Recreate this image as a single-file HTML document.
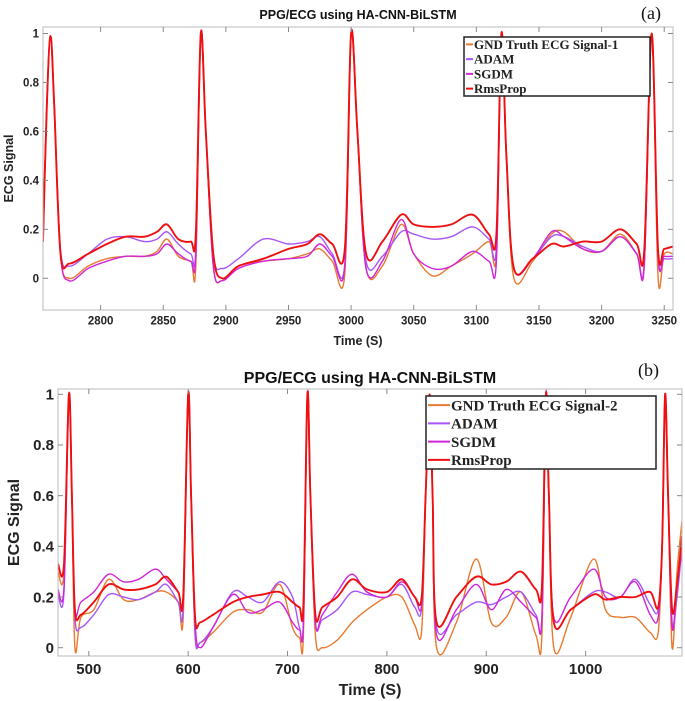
<!DOCTYPE html>
<html><head><meta charset="utf-8"><style>
html,body{margin:0;padding:0;background:#fff;}
svg{display:block;}
</style></head><body>
<svg id="fig" width="685" height="701" viewBox="0 0 685 701" xmlns="http://www.w3.org/2000/svg"></svg>
<script>
// ---- Chart A data ----
const timesA = [2754,2757,2760,2763,2768,2775,2790,2805,2820,2835,2845,2853,2862,2872,2876,2880,2884,2890,2897,2910,2930,2950,2965,2975,2985,2995,3000,3005,3012,3025,3040,3050,3065,3080,3097,3110,3116,3120,3124,3130,3145,3160,3170,3185,3200,3215,3228,3234,3240,3245,3250,3257];
const gndA  = [.15,.7,.99,.7,.1,0,.05,.08,.09,.09,.11,.16,.09,.07,.05,1,.6,.05,-.01,.05,.07,.08,.1,.12,.07,.02,1,.6,.04,.05,.22,.1,.01,.05,.1,.15,.1,1,.5,0,.07,.18,.19,.12,.11,.18,.1,.05,1,.01,.1,.1];
const adamA = [.15,.7,.99,.7,.12,.05,.1,.16,.17,.15,.16,.19,.14,.1,.12,1,.6,.1,.04,.08,.16,.14,.15,.17,.1,.06,1,.6,.07,.09,.19,.18,.16,.17,.21,.16,.13,1,.5,.04,.08,.17,.17,.13,.11,.17,.1,.06,1,.1,.08,.08];
const sgdmA = [.15,.7,.99,.7,.1,-.01,.04,.07,.09,.09,.1,.14,.1,.07,.1,1,.6,.05,-.01,.04,.07,.08,.09,.14,.09,.05,1,.6,.04,.07,.24,.1,.04,.05,.11,.07,.07,1,.5,.04,.08,.19,.17,.12,.11,.17,.1,.05,1,.1,.09,.09];
const rmsA  = [.15,.7,.99,.7,.1,.06,.1,.14,.17,.17,.19,.22,.16,.15,.18,1,.6,.1,0,.05,.08,.12,.14,.18,.14,.12,1,.6,.1,.15,.26,.22,.21,.22,.26,.18,.18,1,.5,.04,.08,.14,.13,.15,.15,.2,.14,.11,1,.12,.12,.13];
const xTicksA = [2800,2850,2900,2950,3000,3050,3100,3150,3200,3250];
const yTicksA = [0,0.2,0.4,0.6,0.8,1];
// ---- Chart B data ----
const timesB = [469,475,480,483,486,492,505,520,535,550,567,578,590,595,600,603,607,612,625,645,660,675,692,705,712,716,720,723,728,735,750,765,780,800,815,828,835,839,843,846,850,870,890,905,920,935,950,956,960,963,968,985,1008,1020,1035,1050,1065,1073,1077,1080,1083,1087,1092,1097];
const gndB  = [.3,.3,1,.6,0,.12,.15,.27,.19,.19,.22,.22,.18,.12,1,.6,.05,.02,.06,.14,.15,.14,.25,.08,.04,.05,1,.6,.05,0,.03,.1,.15,.2,.2,.09,.07,.6,1,.6,0,.1,.35,.1,.12,.22,.05,.05,1,.6,0,.12,.35,.15,.12,.12,.06,.06,.4,1,.6,0,.3,.5];
const adamB = [.21,.22,1,.6,.12,.08,.13,.21,.2,.19,.22,.25,.18,.16,1,.6,.05,.02,.08,.22,.2,.18,.26,.2,.08,.1,1,.6,.1,.11,.15,.22,.21,.2,.25,.16,.16,.6,1,.6,.08,.13,.18,.17,.2,.22,.13,.12,1,.6,.1,.15,.22,.22,.2,.27,.17,.15,.4,1,.6,.1,.2,.4];
const sgdmB = [.23,.24,1,.6,.15,.18,.22,.29,.26,.27,.31,.27,.22,.2,1,.6,.1,0,.08,.21,.14,.15,.18,.1,.07,.1,1,.6,.1,.13,.22,.29,.22,.2,.26,.2,.17,.6,1,.6,.05,.15,.25,.15,.23,.18,.12,.12,1,.6,.12,.2,.31,.2,.2,.26,.13,.12,.4,1,.6,.08,.25,.38];
const rmsB  = [.33,.33,1,.6,.15,.13,.18,.25,.23,.23,.25,.28,.22,.2,1,.6,.12,.1,.13,.18,.2,.21,.22,.18,.16,.17,1,.6,.13,.16,.2,.27,.23,.22,.27,.2,.2,.6,1,.6,.1,.2,.28,.25,.26,.3,.23,.24,1,.6,.1,.15,.21,.19,.2,.2,.22,.16,.4,1,.6,.15,.25,.44];
const xTicksB = [500,600,700,800,900,1000];
const yTicksB = [0,0.2,0.4,0.6,0.8,1];

const NS='http://www.w3.org/2000/svg';
const svg=document.getElementById('fig');
function mk(tag,attrs,parent){const e=document.createElementNS(NS,tag);for(const k in attrs)e.setAttribute(k,attrs[k]);(parent||svg).appendChild(e);return e;}
const colors={gnd:'#e87a30',adam:'#a855f7',sgdm:'#d025d8',rms:'#ee1010'};
function smoothPath(pts){
  let d='M'+pts[0][0].toFixed(1)+','+pts[0][1].toFixed(1);
  for(let i=0;i<pts.length-1;i++){
    const p0=pts[Math.max(0,i-1)],p1=pts[i],p2=pts[i+1],p3=pts[Math.min(pts.length-1,i+2)];
    const c1=[p1[0]+(p2[0]-p0[0])/6,p1[1]+(p2[1]-p0[1])/6];
    const c2=[p2[0]-(p3[0]-p1[0])/6,p2[1]-(p3[1]-p1[1])/6];
    d+=' C'+c1[0].toFixed(1)+','+c1[1].toFixed(1)+' '+c2[0].toFixed(1)+','+c2[1].toFixed(1)+' '+p2[0].toFixed(1)+','+p2[1].toFixed(1);
  }
  return d;
}

function chart(cfg){
  const g=mk('g',{});
  
  
  const sx=t=>cfg.L+(t-cfg.x0)/(cfg.x1-cfg.x0)*(cfg.R-cfg.L);
  const sy=v=>cfg.y0px+(v-0)*(cfg.y1px-cfg.y0px);
  const t=mk('text',{x:(cfg.L+cfg.R)/2,y:cfg.titleY,'text-anchor':'middle','font-family':'Liberation Sans, sans-serif','font-weight':'bold','font-size':cfg.titleFs,fill:'#111'},g);
  t.textContent='PPG/ECG using HA-CNN-BiLSTM';
  
  
  const pl=mk('text',{x:cfg.panelX,y:cfg.panelY,'font-family':'Liberation Serif, serif','font-size':cfg.panelFs,fill:'#111'},g);
  pl.textContent=cfg.panel;
  
  
  const clip=mk('clipPath',{id:'clip'+cfg.id},g);
  mk('rect',{x:cfg.L,y:cfg.T,width:cfg.R-cfg.L,height:cfg.B-cfg.T},clip);
  const series=[['gnd',cfg.gnd],['adam',cfg.adam],['sgdm',cfg.sgdm],['rms',cfg.rms]];
  series.forEach(([k,vals])=>{
    const pts=vals.map((v,i)=>[sx(cfg.times[i]),sy(v)]);
    const p=mk('path',{d:smoothPath(pts),fill:'none',stroke:colors[k],'stroke-width':k==='rms'?1.9:1.4,'stroke-linejoin':'round','clip-path':'url(#clip'+cfg.id+')'},g);
    
    
  });
  const box=mk('rect',{x:cfg.L,y:cfg.T,width:cfg.R-cfg.L,height:cfg.B-cfg.T,fill:'none',stroke:'#bbb','stroke-width':1},g);
  
  
  cfg.xTicks.forEach(v=>{
    const x=sx(v);
    mk('line',{x1:x,x2:x,y1:cfg.B,y2:cfg.B-5,stroke:'#888'},g);
    mk('line',{x1:x,x2:x,y1:cfg.T,y2:cfg.T+5,stroke:'#888'},g);
    const tx=mk('text',{x:x,y:cfg.B+cfg.tickFs+3,'text-anchor':'middle','font-family':'Liberation Sans, sans-serif','font-weight':'bold','font-size':cfg.tickFs,fill:'#222'},g);
    tx.textContent=v;
    
    
  });
  cfg.yTicks.forEach(v=>{
    const y=sy(v);
    mk('line',{x1:cfg.L,x2:cfg.L+5,y1:y,y2:y,stroke:'#888'},g);
    mk('line',{x1:cfg.R,x2:cfg.R-5,y1:y,y2:y,stroke:'#888'},g);
    const ty=mk('text',{x:cfg.L-4,y:y+cfg.tickFs*0.35,'text-anchor':'end','font-family':'Liberation Sans, sans-serif','font-weight':'bold','font-size':cfg.tickFs,fill:'#222'},g);
    ty.textContent=String(v);
    
    
  });
  const xl=mk('text',{x:(cfg.L+cfg.R)/2,y:cfg.xlabY,'text-anchor':'middle','font-family':'Liberation Sans, sans-serif','font-weight':'bold','font-size':cfg.labFs,fill:'#222'},g);
  xl.textContent='Time (S)';
  
  
  const yc=(cfg.T+cfg.B)/2;
  const yl=mk('text',{x:cfg.ylabX,y:yc,'text-anchor':'middle','font-family':'Liberation Sans, sans-serif','font-weight':'bold','font-size':cfg.labFs,fill:'#222',transform:'rotate(-90 '+cfg.ylabX+' '+yc+')'},g);
  yl.textContent='ECG Signal';
  
  
  const lg=mk('g',{},g);
  
  
  mk('rect',{x:cfg.lg[0],y:cfg.lg[1],width:cfg.lg[2],height:cfg.lg[3],fill:'#fff',stroke:'#222','stroke-width':1.5},lg);
  const names=[cfg.gndName,'ADAM','SGDM','RmsProp'];const keys=['gnd','adam','sgdm','rms'];
  const rowH=cfg.lg[3]/4;
  names.forEach((n,i)=>{
    const y=cfg.lg[1]+rowH*(i+0.5);
    mk('line',{x1:cfg.lg[0]+2,x2:cfg.lg[0]+cfg.lgLine,y1:y,y2:y,stroke:colors[keys[i]],'stroke-width':2},lg);
    const tt=mk('text',{x:cfg.lg[0]+cfg.lgLine+1,y:y+cfg.lgFs*0.35,'font-family':'Liberation Serif, serif','font-weight':'bold','font-size':cfg.lgFs,fill:'#222'},lg);
    tt.textContent=n;
    
    
  });
}
chart({id:'chart-a',L:43,R:673,T:27,B:310,x0:2754,x1:3257,y0px:278.3,y1px:33.5,
  times:timesA,gnd:gndA,adam:adamA,sgdm:sgdmA,rms:rmsA,xTicks:xTicksA,yTicks:yTicksA,
  titleY:19,titleFs:12.5,panel:'(a)',panelX:641,panelY:19,panelFs:18,tickFs:11.5,labFs:12.5,xlabY:345,ylabX:13,
  lg:[464,37,186,59],lgLine:9,lgFs:13,gndName:'GND Truth ECG Signal-1'});
chart({id:'chart-b',L:58,R:682,T:389,B:656,x0:469,x1:1097,y0px:647.7,y1px:394.3,
  times:timesB,gnd:gndB,adam:adamB,sgdm:sgdmB,rms:rmsB,xTicks:xTicksB,yTicks:yTicksB,
  titleY:383,titleFs:16,panel:'(b)',panelX:638,panelY:376,panelFs:18,tickFs:15,labFs:16,xlabY:695,ylabX:19,
  lg:[426,396,230,73],lgLine:24,lgFs:15,gndName:'GND Truth ECG Signal-2'});
</script>
</body></html>
